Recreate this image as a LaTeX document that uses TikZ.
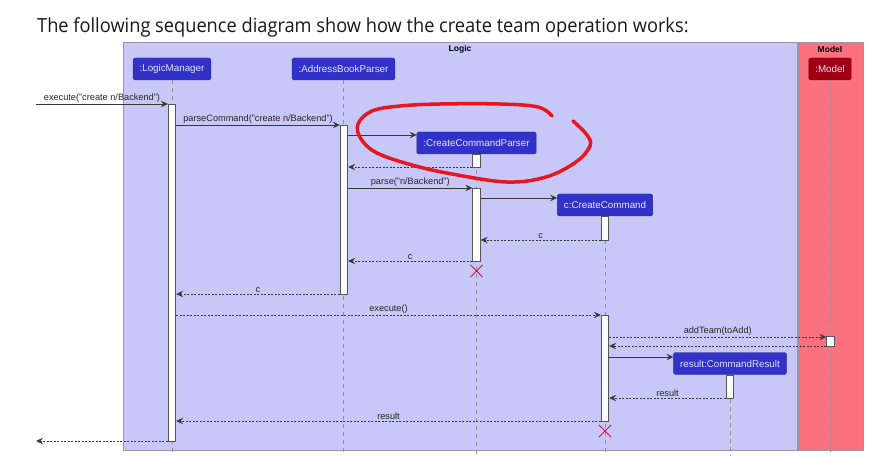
\documentclass[tikz,border=0pt]{standalone}
\usepackage{fontspec}
\setmainfont{Liberation Sans}
\newfontfamily\titlefont[FakeStretch=0.935]{Open Sans}
\usetikzlibrary{arrows.meta,shapes.misc}
\definecolor{logicbg}{RGB}{200,200,248}
\definecolor{modelbg}{RGB}{251,113,128}
\definecolor{partblue}{RGB}{50,50,200}
\definecolor{partred}{RGB}{160,0,20}
\definecolor{parttext}{RGB}{228,228,255}
\definecolor{framegray}{RGB}{150,150,165}
\definecolor{msggray}{RGB}{56,56,56}
\definecolor{killred}{RGB}{200,20,70}
\definecolor{penred}{RGB}{232,22,30}
\tikzset{
  partbox/.style={fill=partblue, draw=partblue!75!black, rounded corners=1.5pt,
    text=parttext, font=\fontsize{9.8}{11}\selectfont,
    inner xsep=6.5pt, inner ysep=0pt, minimum height=22pt},
  actbar/.style={fill=white, draw=msggray!85, line width=0.8pt,
    minimum width=7.5pt, inner sep=0pt},
  lifeline/.style={draw=gray!85, dash pattern=on 4pt off 4pt, line width=0.8pt},
  msg/.style={draw=msggray, line width=0.8pt,
    -{Stealth[length=7pt,width=6.5pt,inset=2.5pt]}},
  ret/.style={msg, dash pattern=on 2pt off 1.5pt},
  lbl/.style={font=\fontsize{9.2}{10}\selectfont, text=black!85,
    inner sep=1.5pt, above},
  framelbl/.style={font=\bfseries\fontsize{8.5}{10}\selectfont, inner sep=0pt},
  killmark/.style={cross out, draw=killred, line width=1pt,
    minimum size=11pt, inner sep=0pt}
}

\begin{document}
\begin{tikzpicture}[x=1pt,y=-1pt]
\useasboundingbox[fill=white] (0,0) rectangle (891,470);

% title
\node[anchor=base west, font=\titlefont\fontsize{19.5}{22}\selectfont, text=black!90, inner sep=0pt]
  (title) at (37,33) {The following sequence diagram show how the create team operation works:};

% boxes
\draw[fill=logicbg, draw=framegray, line width=1pt] (123,43) rectangle (797,450);
\draw[fill=modelbg, draw=framegray, line width=1pt] (798,43) rectangle (863,450);
\node[framelbl] (logiclbl) at (460,49) {Logic};
\node[framelbl] (modellbl) at (830,49) {Model};

% participants
\node[partbox] (lm) at (172,69) {:LogicManager};
\node[partbox] (abp) at (343.5,69) {:AddressBookParser};
\node[partbox, fill=partred, draw=partred!75!black] (md) at (830,69) {:Model};
\node[partbox] (ccp) at (476.5,143) {:CreateCommandParser};
\node[partbox] (cc) at (605,205) {c:CreateCommand};
\node[partbox] (cr) at (730,363.5) {result:CommandResult};

% lifelines
\coordinate (bottom) at (0,456);
\foreach \p in {lm,abp,md,ccp,cc,cr}{
  \draw[lifeline] (\p.south) -- (\p.south |- bottom);
}

% activations
\node[actbar, minimum height=337pt] (lma) at (172,272.5) {};
\node[actbar, minimum height=169pt] (abpa) at (344,209.5) {};
\node[actbar, minimum height=13pt] (ccpa1) at (476.5,160.5) {};
\node[actbar, minimum height=73pt] (ccpa2) at (476.5,224.5) {};
\node[actbar, minimum height=24pt] (cca1) at (605,228) {};
\node[actbar, minimum height=106pt] (cca2) at (605,368) {};
\node[actbar, minimum height=10pt] (mda) at (830.5,341) {};
\node[actbar, minimum height=23pt] (cra) at (730,386.5) {};

% message rows
\coordinate (in) at (36,104);
\coordinate (out) at (36,441);
\foreach \n/\y in {2/125,3/135,4/167,5/188,6/198,7/240,8/261,9/294,
                   10/315,11/337,12/346,13/357,14/398,15/421}{
  \coordinate (m\n) at (0,\y);
}

% messages
\draw[msg] (in) -- (lma.west |- in) node[lbl, midway] {execute("create n/Backend")};
\draw[msg] (lma.east |- m2) -- (abpa.west |- m2) node[lbl, midway] {parseCommand("create n/Backend")};
\draw[msg] (abpa.east |- m3) -- (ccp.west |- m3);
\draw[ret] (ccpa1.west |- m4) -- (abpa.east |- m4);
\draw[msg] (abpa.east |- m5) -- (ccpa2.west |- m5) node[lbl, midway] {parse("n/Backend")};
\draw[msg] (ccpa2.east |- m6) -- (cc.west |- m6);
\draw[ret] (cca1.west |- m7) -- (ccpa2.east |- m7) node[lbl, midway] {c};
\draw[ret] (ccpa2.west |- m8) -- (abpa.east |- m8) node[lbl, midway] {c};
\draw[ret] (abpa.west |- m9) -- (lma.east |- m9) node[lbl, midway] {c};
\draw[ret] (lma.east |- m10) -- (cca2.west |- m10) node[lbl, midway] {execute()};
\draw[ret] (cca2.east |- m11) -- (mda.west |- m11) node[lbl, midway] {addTeam(toAdd)};
\draw[ret] (mda.west |- m12) -- (cca2.east |- m12);
\draw[msg] (cca2.east |- m13) -- (cr.west |- m13);
\draw[ret] (cra.west |- m14) -- (cca2.east |- m14) node[lbl, midway] {result};
\draw[ret] (cca2.west |- m15) -- (lma.east |- m15) node[lbl, midway] {result};
\draw[ret] (lma.west |- out) -- (out);

% destroyed
\node[killmark] (ccpx) at (476.5,271) {};
\node[killmark] (ccx) at (605,431) {};

% hand-drawn ring
\draw[penred, line width=3.5pt, line cap=round] plot[smooth, tension=0.6] coordinates {
(552,116) (538,107) (500,104) (440,104) (400,106) (372,111)
(358,124) (361,139) (377,153) (412,165) (452,174) (507,182)
(546,177) (576,162) (590,146) (587,135) (573,121)
};

\end{tikzpicture}
\end{document}
